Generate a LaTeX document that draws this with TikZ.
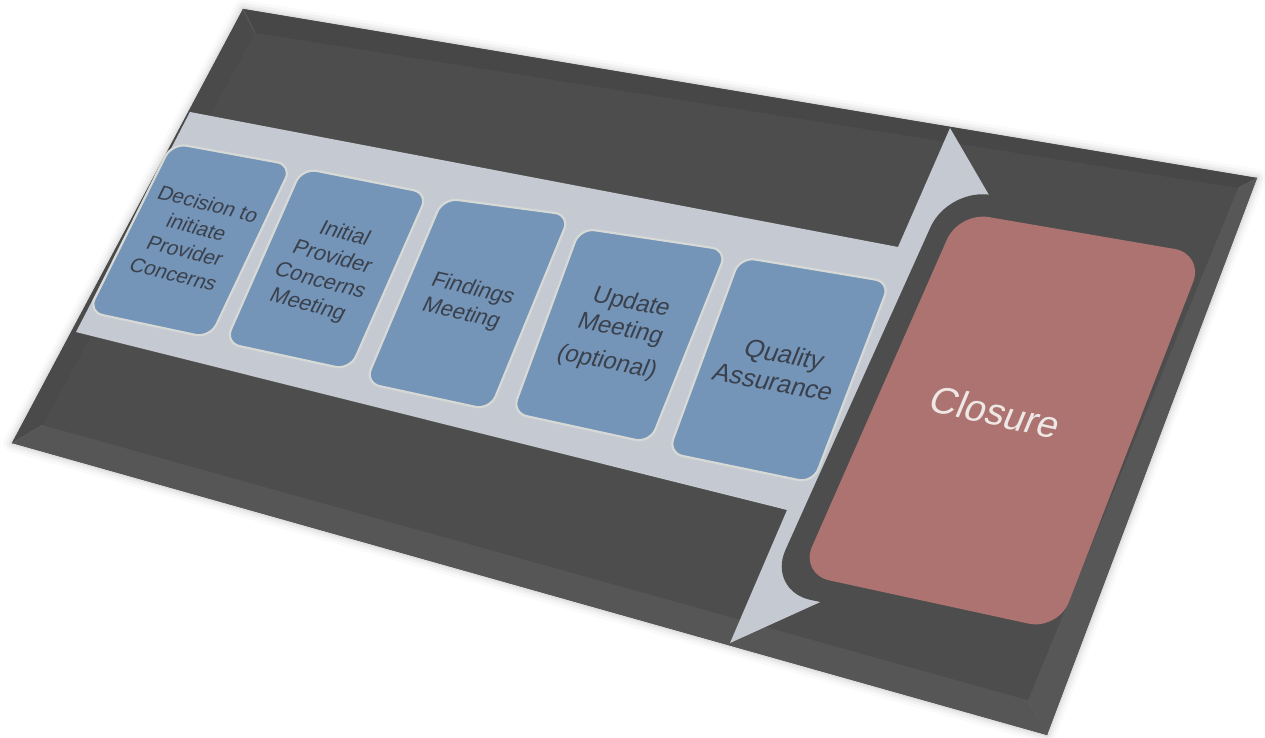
\documentclass[tikz,border=0pt]{standalone}
\usepackage{fontspec}
\setmainfont{Liberation Sans}
\definecolor{boardface}{HTML}{4D4D4D}
\definecolor{beveltop}{HTML}{474747}
\definecolor{bevelleft}{HTML}{4A4A4A}
\definecolor{bevelbottom}{HTML}{565656}
\definecolor{bevelright}{HTML}{575757}
\definecolor{creasecol}{HTML}{5C5C5C}
\definecolor{bandgray}{HTML}{C5CAD2}
\definecolor{boxblue}{HTML}{7494B8}
\definecolor{boxrim}{HTML}{D6D9D5}
\definecolor{bluehi}{HTML}{93B6E2}
\definecolor{textdark}{HTML}{3A414C}
\definecolor{closurered}{HTML}{AC7371}
\definecolor{closuretext}{HTML}{EDE7E5}
\pgfdeclarehorizontalshading{edgelight}{100bp}{color(0bp)=(bluehi); color(22bp)=(boxblue); color(100bp)=(boxblue)}
\begin{document}
\begin{tikzpicture}[x=1pt,y=-1pt,
  stepbox/.style={fill=boxblue, draw=boxrim, line width=2.2pt, rounded corners=15pt},
  steptext/.style={text=textdark, align=center, inner sep=0pt},
  closuretxt/.style={text=closuretext, align=center, inner sep=0pt}]
\useasboundingbox (0,0) rectangle (1265,738);

% outer and inner outline of the tilted board
\coordinate (oTL) at (243,9);
\coordinate (oTR) at (1257,178);
\coordinate (oBR) at (1047,735);
\coordinate (oBL) at (12,443);
\coordinate (iTL) at (255,33);
\coordinate (iTR) at (1238,188);
\coordinate (iBR) at (1028,700);
\coordinate (iBL) at (43,425);

% soft shadow under the board
\foreach \w/\o in {18/0.02,12/0.03,7/0.04,3/0.05}
  \draw[line width=\w pt, black, opacity=\o, line join=round, shift={(1,5)}]
    (oTL) -- (oTR) -- (oBR) -- (oBL) -- cycle;

% bevelled board
\fill[boardface] (oTL) -- (oTR) -- (oBR) -- (oBL) -- cycle;
\fill[beveltop] (oTL) -- (oTR) -- (iTR) -- (iTL) -- cycle;
\fill[bevelright] (oTR) -- (oBR) -- (iBR) -- (iTR) -- cycle;
\fill[bevelbottom] (oBR) -- (oBL) -- (iBL) -- (iBR) -- cycle;
\fill[bevelleft] (oBL) -- (oTL) -- (iTL) -- (iBL) -- cycle;
\fill[boardface] (iTL) -- (iTR) -- (iBR) -- (iBL) -- cycle;
\draw[line width=0.8pt, creasecol] (oTL) -- (iTL) (oTR) -- (iTR) (oBR) -- (iBR) (oBL) -- (iBL);

% process band ending in an arrow head
\fill[bandgray] (190,112) -- (898,247) -- (950,128) -- (1000,214) -- (1000,520)
  -- (860,584) -- (730,643) -- (787,510) -- (76,332) -- cycle;

% dark frame round the last step
\fill[boardface, rounded corners=45pt] (949,186) -- (1205,240) -- (1045,648) -- (767,591) -- cycle;

% closing step
\fill[closurered, rounded corners=30pt] (959,212) -- (1204,254) -- (1058,630) -- (800,574) -- cycle;

% process steps
\path[stepbox, shade, shading=edgelight] (172,143) -- (292,165) -- (210,338) -- (88,312) -- cycle;
\path[stepbox] (302,168) -- (428,193) -- (350,370) -- (225,343) -- cycle;
\path[stepbox] (443,198) -- (570,215) -- (490,410) -- (365,383) -- cycle;
\path[stepbox] (580,228) -- (727,250) -- (650,443) -- (512,413) -- cycle;
\path[stepbox] (740,257) -- (890,282) -- (813,483) -- (668,453) -- cycle;

% labels
\node[steptext, font=\fontsize{20.5}{25.5}\selectfont, rotate=-14, xslant=0.22] (b1) at (191,239)
  {Decision to\\initiate\\Provider\\Concerns};
\node[steptext, font=\fontsize{21.5}{26}\selectfont, rotate=-15, xslant=0.22] (b2) at (326,270)
  {Initial\\Provider\\Concerns\\Meeting};
\node[steptext, font=\fontsize{22}{26.5}\selectfont, rotate=-13, xslant=0.22] (b3) at (467,302)
  {Findings\\Meeting};
\node[steptext, font=\fontsize{24}{28}\selectfont, rotate=-11, xslant=0.2] (b4) at (619,333)
  {Update\\Meeting\\[7pt](optional)};
\node[steptext, font=\fontsize{25.5}{29.5}\selectfont, rotate=-10.5, xslant=0.2] (b5) at (779,368)
  {Quality\\Assurance};
\node[closuretxt, font=\fontsize{38}{44}\selectfont, rotate=-12.5, xslant=0.18] (closure) at (996,412)
  {Closure};
\end{tikzpicture}
\end{document}
